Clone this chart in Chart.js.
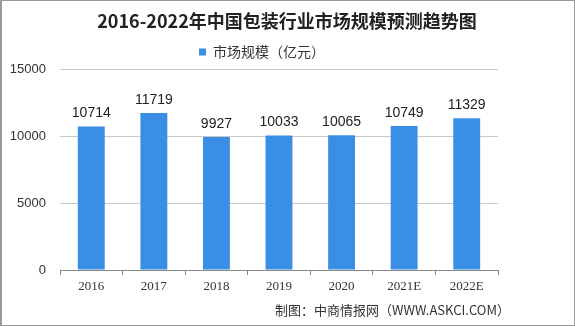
<!DOCTYPE html>
<html><head><meta charset="utf-8">
<script src="https://cdn.jsdelivr.net/npm/chart.js@4"></script>
<style>html,body{margin:0;padding:0;background:#fff}#wrap{width:575px;height:326px;position:relative}</style>
</head><body><div id="wrap"><canvas id="c"></canvas></div>
<script>
const categories = ['2016','2017','2018','2019','2020','2021E','2022E'];
const marketSize = [10714,11719,9927,10033,10065,10749,11329];
const yTicks = [0,5000,10000,15000];
const titleText = '2016-2022年中国包装行业市场规模预测趋势图';
const sourceText = '制图：中商情报网（WWW.ASKCI.COM）';

const extras = {
  id:'extras',
  afterDatasetsDraw(chart){
    const ctx = chart.ctx, meta = chart.getDatasetMeta(0);
    ctx.save();
    ctx.font = '14px "Liberation Sans", sans-serif';
    ctx.fillStyle = '#222';
    ctx.textAlign = 'center'; ctx.textBaseline = 'bottom';
    meta.data.forEach((b,i)=>ctx.fillText(String(marketSize[i]), b.x, b.y-6));
    ctx.font = 'bold 18px "Noto Sans CJK SC", sans-serif';
    ctx.textBaseline = 'middle';
    ctx.fillText(titleText, 287, 21);
    ctx.font = '13px "Noto Sans CJK SC", sans-serif';
    ctx.fillStyle = '#333';
    ctx.textAlign = 'right';
    ctx.fillText(sourceText, 510, 310);
    ctx.strokeStyle = '#9a9a9a';
    ctx.lineWidth = 1;
    ctx.strokeRect(0.5,0.5,574,325);
    ctx.fillStyle = '#9a9a9a';
    ctx.fillRect(0,0,2,326);
    ctx.restore();
  }
};

new Chart(document.getElementById('c'), {
  type:'bar',
  data:{labels:categories, datasets:[{label:'市场规模（亿元）', data:marketSize, backgroundColor:'#3a8fe4', categoryPercentage:0.86, barPercentage:0.5}]},
  options:{
    responsive:true, maintainAspectRatio:false, animation:false,
    layout:{padding:{left:0,right:51,top:38,bottom:32}},
    plugins:{
      title:{display:false},
      legend:{display:true,labels:{color:'#333',boxWidth:7,boxHeight:7,font:{family:'"Noto Sans CJK SC", sans-serif',size:14},padding:7}},
      tooltip:{enabled:false}
    },
    scales:{
      x:{grid:{display:true,drawOnChartArea:false,drawTicks:true,tickLength:5,offset:true,color:'#888'},border:{display:true,color:'#888'},ticks:{color:'#333',font:{family:'"Liberation Serif", serif',size:13},padding:4},afterFit(s){s.height=24;}},
      y:{min:0,max:15000,afterBuildTicks(s){s.ticks=yTicks.map(v=>({value:v}));},grid:{color:'#c8c8c8',drawTicks:false},border:{display:false},ticks:{color:'#333',font:{family:'"Liberation Sans", sans-serif',size:13},padding:14,callback:v=>String(v)},afterFit(s){s.width=60;}},
      yPad:{position:'right',display:true,min:0,max:15000,grid:{display:false,drawTicks:false},border:{display:false},ticks:{display:false},afterFit(s){s.width=26;}}
    }
  },
  plugins:[extras]
});
</script></body></html>
